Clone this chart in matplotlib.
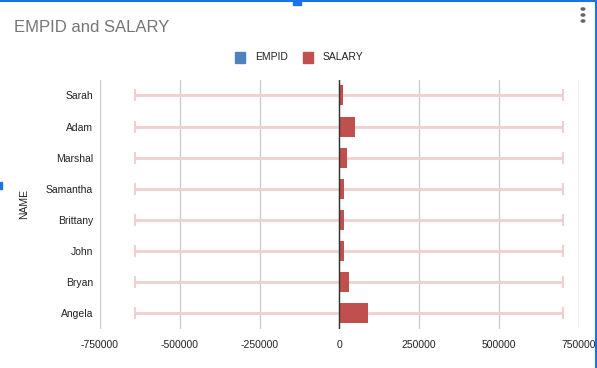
"""
EMPID and SALARY by name, horizontal grouped bars with error bars.
"""

import matplotlib.pyplot as plt
from matplotlib.patches import Rectangle, Circle

plt.rcParams["font.family"] = ["Liberation Sans", "DejaVu Sans"]

# data
names = ["Sarah", "Adam", "Marshal", "Samantha", "Brittany", "John", "Bryan", "Angela"]
empid = [1, 2, 3, 4, 5, 6, 7, 8]
salary = [10000, 48000, 22500, 14000, 14000, 15500, 30000, 89000]
err_low = [650000, 688000, 662500, 654000, 654000, 655500, 670000, 729000]
err_high = [690000, 652000, 677500, 686000, 686000, 684500, 670000, 611000]
x_ticks = [-750000, -500000, -250000, 0, 250000, 500000, 750000]

BLUE = "#4f81bd"
RED = "#c0504d"
ERR = "#efcfcf"
GRID = "#cccccc"
TEXT = "#222222"


def main():
    fig = plt.figure(figsize=(5.97, 3.68), dpi=100)
    ax = fig.add_axes([0.1675, 0.106, 0.802, 0.677])

    pos = list(range(len(names)))

    ax.barh(pos, salary, height=0.64, color=RED, zorder=3)
    ax.barh(pos, empid, height=0.64, color=BLUE, zorder=4)
    ax.errorbar(salary, pos, xerr=[err_low, err_high], fmt="none",
                ecolor=ERR, elinewidth=2, capsize=4.3, capthick=1.5, zorder=2)

    ax.set_xlim(x_ticks[0], x_ticks[-1])
    ax.set_ylim(len(names) - 0.5, -0.5)
    ax.set_yticks(pos)
    ax.set_yticklabels(names, fontsize=7.5, color=TEXT)
    ax.set_xticks(x_ticks)
    ax.set_xticklabels([str(t) for t in x_ticks], fontsize=7.5, color=TEXT)
    ax.tick_params(length=0, pad=5)
    ax.tick_params(axis="x", pad=8)

    for t in x_ticks:
        ax.axvline(t, color=GRID, lw=1, zorder=1)
    ax.axvline(0, color="#333333", lw=1, zorder=5)
    for s in ax.spines.values():
        s.set_visible(False)

    ax.set_ylabel("NAME", fontsize=7.5, color=TEXT, labelpad=12)

    fig.text(0.023, 0.924, "EMPID and SALARY", fontsize=12, color="#757575",
             va="center", ha="left")

    # legend
    fig.patches.append(Rectangle((235 / 597, 1 - 63 / 368), 10 / 597, 11 / 368,
                                 color=BLUE, transform=fig.transFigure))
    fig.text(255 / 597, 1 - 57 / 368, "EMPID", fontsize=7.5, color=TEXT, va="center")
    fig.patches.append(Rectangle((303 / 597, 1 - 63 / 368), 10 / 597, 11 / 368,
                                 color=RED, transform=fig.transFigure))
    fig.text(323 / 597, 1 - 57 / 368, "SALARY", fontsize=7.5, color=TEXT, va="center")

    # selection frame of the chart editor
    sel = "#1a73e8"
    fig.add_artist(plt.Line2D([0, 1], [0.998, 0.998], color=sel, lw=1.5,
                              transform=fig.transFigure))
    fig.add_artist(plt.Line2D([595.5 / 597, 595.5 / 597], [0, 1], color=sel, lw=1.5,
                              transform=fig.transFigure))
    fig.patches.append(Rectangle((293 / 597, 1 - 5 / 368), 8 / 597, 5 / 368,
                                 color=sel, transform=fig.transFigure))
    fig.patches.append(Rectangle((0, 1 - 189 / 368), 2 / 597, 7 / 368,
                                 color=sel, transform=fig.transFigure))
    for y in (9, 15, 21):
        fig.patches.append(Circle((583 / 597, 1 - y / 368), 1.8 / 597,
                                  color="#666666", transform=fig.transFigure))

    fig.savefig("out.png", dpi=100)
    plt.close(fig)


if __name__ == "__main__":
    main()
